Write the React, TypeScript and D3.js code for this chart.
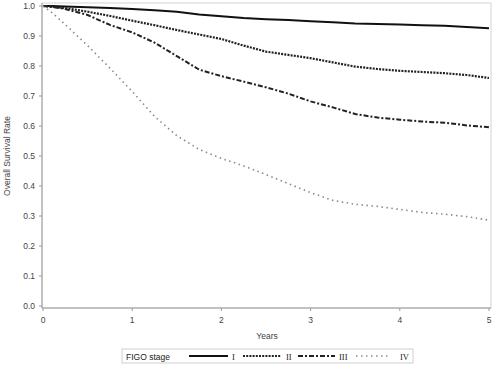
import React from "react";
import * as d3 from "d3";

const years = [0, 0.1, 0.25, 0.5, 0.75, 1, 1.25, 1.5, 1.75, 2, 2.25, 2.5, 2.75, 3, 3.25, 3.5, 3.75, 4, 4.25, 4.5, 4.75, 5];
const stageI = [1, 1, 0.998, 0.996, 0.993, 0.99, 0.986, 0.981, 0.972, 0.966, 0.96, 0.956, 0.953, 0.949, 0.946, 0.942, 0.94, 0.938, 0.936, 0.934, 0.93, 0.926];
const stageII = [1, 0.998, 0.993, 0.981, 0.967, 0.951, 0.936, 0.92, 0.905, 0.89, 0.868, 0.848, 0.837, 0.826, 0.812, 0.798, 0.79, 0.784, 0.78, 0.776, 0.77, 0.76];
const stageIII = [1, 0.997, 0.99, 0.97, 0.937, 0.912, 0.878, 0.833, 0.788, 0.766, 0.748, 0.729, 0.708, 0.682, 0.662, 0.64, 0.628, 0.621, 0.615, 0.611, 0.602, 0.596];
const stageIV = [1, 0.978, 0.938, 0.868, 0.793, 0.715, 0.632, 0.568, 0.522, 0.492, 0.467, 0.438, 0.408, 0.378, 0.352, 0.339, 0.332, 0.322, 0.312, 0.306, 0.298, 0.286];
const xTicks = [0, 1, 2, 3, 4, 5];
const yTicks = [0, 0.1, 0.2, 0.3, 0.4, 0.5, 0.6, 0.7, 0.8, 0.9, 1.0];
const legendLabels = ["I", "II", "III", "IV"];

const styles = [
  { stroke: "#111", width: 2, dash: "" },
  { stroke: "#222", width: 2.2, dash: "2,1.2" },
  { stroke: "#222", width: 2, dash: "5,2,2,2" },
  { stroke: "#8a8a8a", width: 1.6, dash: "1.5,3.5" },
];

export default function App() {
  const W = 500, H = 381;
  const x = d3.scaleLinear().domain([0, 5]).range([43, 489]);
  const y = d3.scaleLinear().domain([0, 1]).range([306, 6]);
  const series = [stageI, stageII, stageIII, stageIV];
  const line = d3.line<number>().x((_, i) => x(years[i])).y((d) => y(d)).curve(d3.curveLinear);
  const font = "Liberation Sans, Arial, sans-serif";
  const legItems = [
    { x1: 189, x2: 228, tx: 232 },
    { x1: 243, x2: 281, tx: 286 },
    { x1: 298, x2: 335, tx: 339 },
    { x1: 356, x2: 390, tx: 400 },
  ];
  return (
    <svg width={W} height={H} style={{ position: "absolute", left: 0, top: 0, background: "#fff" }} fontFamily={font}>
      <rect x={42} y={3} width={449} height={305} fill="none" stroke="#d4d4d4" strokeWidth={1} />
      <line x1={42} x2={42} y1={3} y2={308} stroke="#9a9a9a" />
      <line x1={42} x2={491} y1={308} y2={308} stroke="#9a9a9a" />
      {yTicks.map((t) => (
        <g key={"y" + t}>
          <line x1={39} x2={42} y1={y(t)} y2={y(t)} stroke="#9a9a9a" />
          <text x={35} y={y(t)} dy="0.35em" textAnchor="end" fontSize={8.5} fill="#444">{t.toFixed(1)}</text>
        </g>
      ))}
      {xTicks.map((t) => (
        <g key={"x" + t}>
          <line x1={x(t)} x2={x(t)} y1={308} y2={311} stroke="#9a9a9a" />
          <text x={x(t)} y={323} textAnchor="middle" fontSize={8.5} fill="#444">{t}</text>
        </g>
      ))}
      <text transform="translate(10,156) rotate(-90)" textAnchor="middle" fontSize={8.5} fill="#444">Overall Survival Rate</text>
      <text x={267} y={339} textAnchor="middle" fontSize={8.5} fill="#444">Years</text>
      {series.map((s, i) => (
        <path key={i} d={line(s) || ""} fill="none" stroke={styles[i].stroke} strokeWidth={styles[i].width} strokeDasharray={styles[i].dash} />
      ))}
      <rect x={122} y={349} width={291} height={14} fill="#fff" stroke="#cfcfcf" />
      <text x={126} y={359.5} fontSize={8.5} fill="#222">FIGO stage</text>
      {legItems.map((l, i) => (
        <g key={"l" + i}>
          <line x1={l.x1} x2={l.x2} y1={356} y2={356} stroke={styles[i].stroke} strokeWidth={styles[i].width} strokeDasharray={styles[i].dash} />
          <text x={l.tx} y={359.5} fontSize={8.5} fill="#222" fontFamily="Liberation Serif, serif">{legendLabels[i]}</text>
        </g>
      ))}
    </svg>
  );
}
